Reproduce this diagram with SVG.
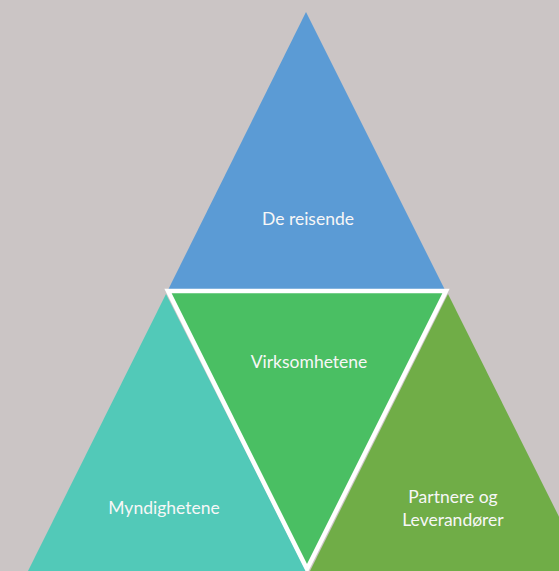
<svg xmlns="http://www.w3.org/2000/svg" width="559" height="571" viewBox="0 0 559 571">
<style>
.lbl{font-family:Lato,"Liberation Sans",sans-serif;font-size:17.5px;fill:#F7F7F7;text-anchor:middle}
</style>
<rect x="0" y="0" width="559" height="571" fill="#CBC5C5"/>
<g id="node-blue">
<polygon points="306,12 168,290 445,290" fill="#5B9BD5"/>
<text class="lbl" x="308" y="225">De reisende</text>
</g>
<g id="node-teal">
<polygon points="166,294 28,571 306,571" fill="#52C9B8"/>
<text class="lbl" x="164" y="514">Myndighetene</text>
</g>
<g id="node-olive">
<polygon points="448,294 310,571 586,571" fill="#70AD47"/>
<text class="lbl" x="453" y="503">Partnere og</text>
<text class="lbl" x="453" y="526">Leverandører</text>
</g>
<g id="node-green">
<polygon points="168,291 446,291 307,569" fill="#4ABF63" stroke="#FFFFFF" stroke-width="4.5" stroke-linejoin="miter"/>
<text class="lbl" x="309" y="368">Virksomhetene</text>
</g>
<g id="connectors"></g>
</svg>
